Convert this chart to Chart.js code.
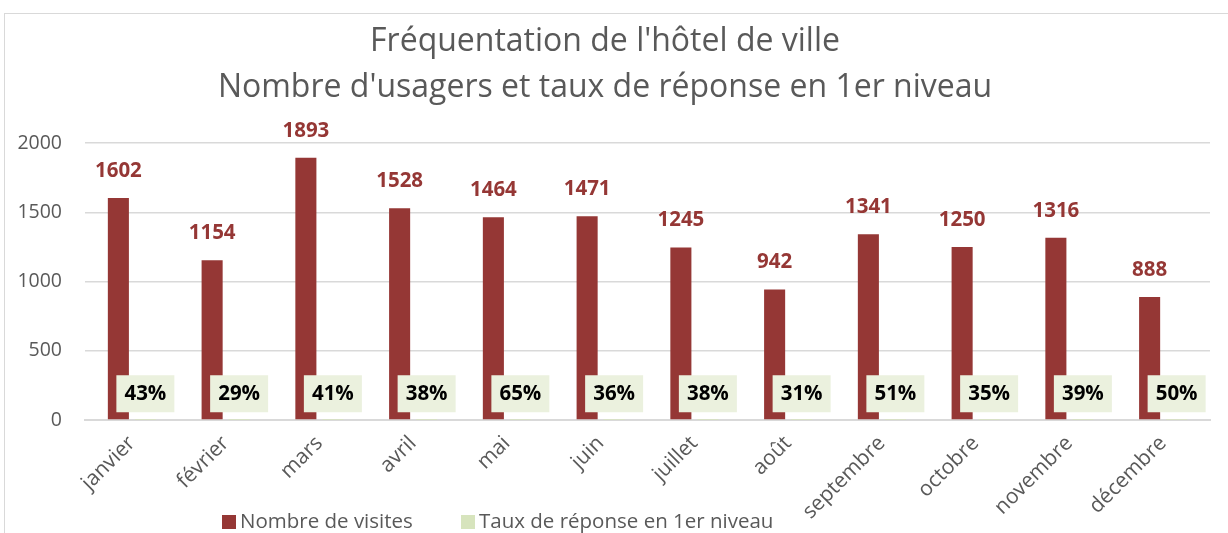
<!DOCTYPE html>
<html>
<head>
<meta charset="utf-8">
<script src="https://cdn.jsdelivr.net/npm/chart.js@4"></script>
<style>
body { margin: 0; background: #fff; }
#wrap { position: relative; width: 1228px; height: 533px; overflow: hidden; }
#frame { position: absolute; left: 4px; top: 13px; width: 1300px; height: 600px; border: 1px solid #d9d9d9; }
#myChart { position: absolute; left: 0; top: 0; }
.leg { position: absolute; top: 506px; font: 20.5px "Open Sans"; color: #595959; white-space: nowrap; }
.leg span { display: inline-block; width: 14px; height: 14px; margin-right: 4px; vertical-align: -1px; }
</style>
</head>
<body>
<div id="wrap">
  <div id="frame"></div>
  <canvas id="myChart" width="1228" height="533"></canvas>
  <div class="leg" style="left:222px"><span style="background:#953735"></span>Nombre de visites</div>
  <div class="leg" style="left:461px"><span style="background:#D7E4BD"></span>Taux de réponse en 1er niveau</div>
</div>
<script>
// data
const mois = ['janvier', 'février', 'mars', 'avril', 'mai', 'juin', 'juillet', 'août', 'septembre', 'octobre', 'novembre', 'décembre'];
const visites = [1602, 1154, 1893, 1528, 1464, 1471, 1245, 942, 1341, 1250, 1316, 888];
const tauxReponse = [0.43, 0.29, 0.41, 0.38, 0.65, 0.36, 0.38, 0.31, 0.51, 0.35, 0.39, 0.50];
const yTicks = [0, 500, 1000, 1500, 2000];

const grey = '#595959';

// labels above the bars + green boxes for the rate
const valueLabels = {
    id: 'valueLabels',
    afterDatasetsDraw(chart) {
        const ctx = chart.ctx;
        const red = chart.getDatasetMeta(0).data;
        const green = chart.getDatasetMeta(1).data;
        ctx.save();
        ctx.textAlign = 'center';
        ctx.textBaseline = 'middle';
        ctx.font = 'bold 20.5px "Open Sans"';
        ctx.fillStyle = '#953735';
        red.forEach((bar, i) => {
            ctx.fillText(visites[i], bar.x, bar.y - 27);
        });
        green.forEach((bar, i) => {
            const cy = bar.base - 26;
            ctx.fillStyle = '#EBF1DE';
            ctx.fillRect(bar.x - 29, cy - 18, 58, 37);
            ctx.fillStyle = '#000';
            ctx.fillText(Math.round(tauxReponse[i] * 100) + '%', bar.x, cy + 1);
        });
        ctx.restore();
    }
};

const chart = new Chart(document.getElementById('myChart'), {
    type: 'bar',
    data: {
        labels: mois,
        datasets: [{
            label: 'Nombre de visites',
            data: visites,
            backgroundColor: '#953735',
            categoryPercentage: 0.576,
            barPercentage: 0.78
        }, {
            label: 'Taux de réponse en 1er niveau',
            data: tauxReponse,
            backgroundColor: '#D7E4BD',
            categoryPercentage: 0.576,
            barPercentage: 0.78
        }]
    },
    options: {
        responsive: false,
        animation: false,
        layout: { padding: { left: 0, right: 18, top: 0, bottom: 0 } },
        plugins: {
            legend: { display: false },
            tooltip: { enabled: false },
            title: {
                display: true,
                text: ["Fréquentation de l'hôtel de ville", "Nombre d'usagers et taux de réponse en 1er niveau"],
                color: grey,
                font: { family: 'Open Sans', size: 32, weight: 'normal', lineHeight: 46 / 32 },
                padding: { top: 19, bottom: 32 }
            }
        },
        scales: {
            x: {
                grid: { display: false },
                border: { color: '#d9d9d9', width: 2 },
                ticks: {
                    color: grey,
                    font: { family: 'Open Sans', size: 21 },
                    autoSkip: false,
                    minRotation: 45,
                    maxRotation: 45
                },
                afterFit(scale) { scale.height = 113; }
            },
            y: {
                min: 0,
                max: 2000,
                afterBuildTicks(scale) { scale.ticks = yTicks.map(v => ({ value: v })); },
                grid: { color: '#d9d9d9', lineWidth: 1.5, drawTicks: false },
                border: { display: false },
                ticks: {
                    color: grey,
                    font: { family: 'Open Sans', size: 19.5 },
                    padding: 23,
                    callback: v => String(v)
                },
                afterFit(scale) { scale.width = 85; }
            }
        }
    },
    plugins: [valueLabels]
});
</script>
</body>
</html>
